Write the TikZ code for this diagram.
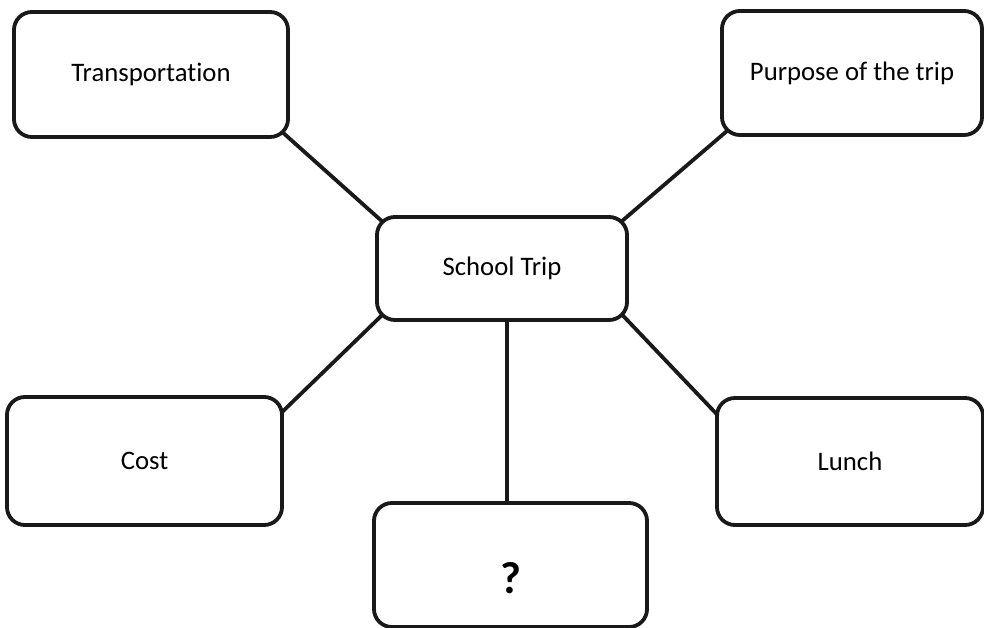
\documentclass[tikz,border=0pt]{standalone}
\usepackage{fontspec}
\setmainfont{Carlito}[Ligatures={NoCommon}]
\usetikzlibrary{backgrounds}
\begin{document}
\begin{tikzpicture}[x=0.025cm, y=0.025cm]
\tikzstyle{every node}+=[inner sep=0pt]
\tikzstyle{bubble}=[draw=black!90, line width=2.7pt, rounded corners=0.45cm, fill=white, font=\fontsize{19}{23}\selectfont]
\tikzstyle{link}=[draw=black!90, line width=2.7pt, shorten <=-0.4cm, shorten >=-0.4cm]
\useasboundingbox (0,0) rectangle (984,-628);
\node [bubble, minimum width=6.85cm, minimum height=3.125cm] (trans) at (151,-74.5) {Transportation};
\node [bubble, minimum width=6.5cm, minimum height=3.1cm] (purpose) at (852,-73) {Purpose of the trip};
\node [bubble, minimum width=6.25cm, minimum height=2.575cm] (school) at (502,-268.5) {School Trip};
\node [bubble, minimum width=6.875cm, minimum height=3.2cm] (cost) at (144.5,-461) {Cost};
\node [bubble, minimum width=6.65cm, minimum height=3.175cm] (lunch) at (850,-461.5) {Lunch};
\node [bubble, minimum width=6.825cm, minimum height=3.1cm, font=\fontsize{32}{36}\selectfont\bfseries] (quest) at (510.5,-565) {\raisebox{-0.7cm}[0pt][0pt]{?}};
\begin{pgfonlayer}{background}
\draw [link] (trans.south east) -- (school.north west);
\draw [link] (purpose.south west) -- (school.north east);
\draw [link] (cost.20) -- (school.south west);
\draw [link] (lunch.160) -- (school.south east);
\draw [link] ([xshift=-0.08cm]quest.north) -- ([xshift=-0.08cm]quest.north |- school.south);
\end{pgfonlayer}
\end{tikzpicture}
\end{document}
